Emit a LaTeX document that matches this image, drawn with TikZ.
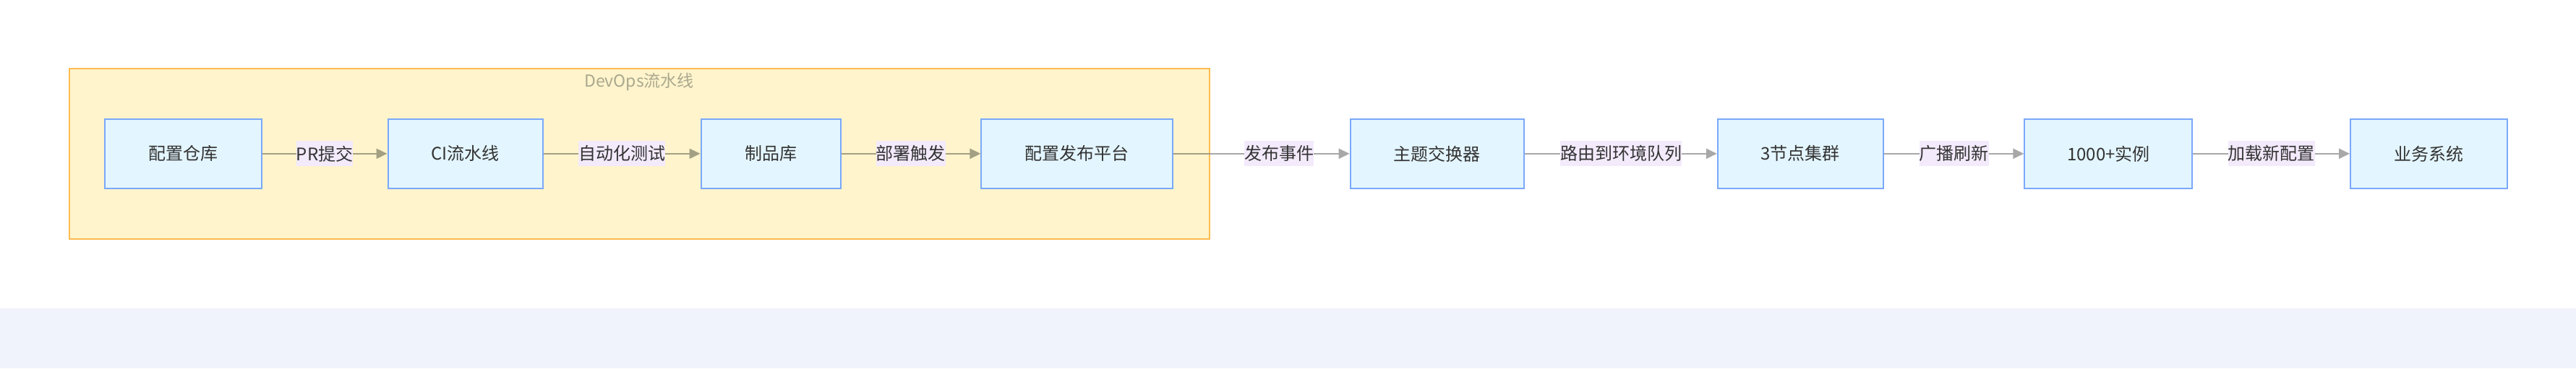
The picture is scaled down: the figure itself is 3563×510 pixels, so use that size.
\documentclass[tikz,border=0pt]{standalone}
\usepackage{fontspec}
\setmainfont{Noto Sans CJK SC}
\usetikzlibrary{arrows.meta}
\definecolor{nodefill}{RGB}{227,245,254}
\definecolor{nodeline}{RGB}{122,168,250}
\definecolor{clusterfill}{RGB}{255,244,204}
\definecolor{clusterline}{RGB}{255,187,80}
\definecolor{clusterlabel}{RGB}{170,168,142}
\definecolor{edgegrey}{RGB}{168,168,168}
\definecolor{edgeolive}{RGB}{163,159,131}
\definecolor{labelfill}{RGB}{243,234,252}
\definecolor{textdark}{RGB}{51,51,51}
\definecolor{bandfill}{RGB}{240,243,251}
\begin{document}
\begin{tikzpicture}[x=0.5pt,y=-0.5pt,
  box/.style={draw=nodeline, fill=nodefill, line width=1pt, minimum height=48.25pt, inner sep=0pt, text=textdark, font=\fontsize{12pt}{14pt}\selectfont},
  elabel/.style={fill=labelfill, inner xsep=0pt, inner ysep=0pt, minimum height=17.5pt, text=textdark, font=\fontsize{12pt}{14pt}\selectfont},
  flow/.style={draw=edgegrey, line width=1pt, -{Triangle[length=7.5pt,width=7pt]}},
  flowin/.style={flow, draw=edgeolive},
  cluster/.style={draw=clusterline, fill=clusterfill, line width=1pt, inner sep=0pt},
  clabel/.style={text=clusterlabel, inner sep=0pt, font=\fontsize{11.5pt}{13pt}\selectfont}]
\useasboundingbox (0,0) rectangle (3563,510);
\fill[bandfill] (0,427) rectangle (3563,510);

\node[cluster, minimum width=788.6pt, minimum height=117.7pt] (devops) at (884.1,213) {};
\node[clabel] (devopslabel) at (884.1,113) {DevOps流水线};

\node[box, minimum width=108.5pt] (n1) at (253.4,212.8) {配置仓库};
\node[box, minimum width=107pt] (n2) at (643.5,212.8) {CI流水线};
\node[box, minimum width=96.5pt] (n3) at (1066,212.8) {制品库};
\node[box, minimum width=132.5pt] (n4) at (1489.9,212.8) {配置发布平台};
\node[box, minimum width=120.3pt] (n5) at (1987.9,212.8) {主题交换器};
\node[box, minimum width=114.5pt] (n6) at (2490.3,212.8) {3节点集群};
\node[box, minimum width=116pt] (n7) at (2916.3,212.8) {1000+实例};
\node[box, minimum width=108.5pt] (n8) at (3359.5,212.8) {业务系统};

\draw[flowin] (n1) -- node[elabel] {PR提交} (n2);
\draw[flowin] (n2) -- node[elabel] {自动化测试} (n3);
\draw[flowin] (n3) -- node[elabel] {部署触发} (n4);
\draw[flow] (n4) -- node[elabel, pos=0.6] {发布事件} (n5);
\draw[draw=edgeolive, line width=1pt] (n4.east) -- (devops.east |- n4.east);
\draw[flow] (n5) -- node[elabel] {路由到环境队列} (n6);
\draw[flow] (n6) -- node[elabel] {广播刷新} (n7);
\draw[flow] (n7) -- node[elabel] {加载新配置} (n8);
\end{tikzpicture}
\end{document}
